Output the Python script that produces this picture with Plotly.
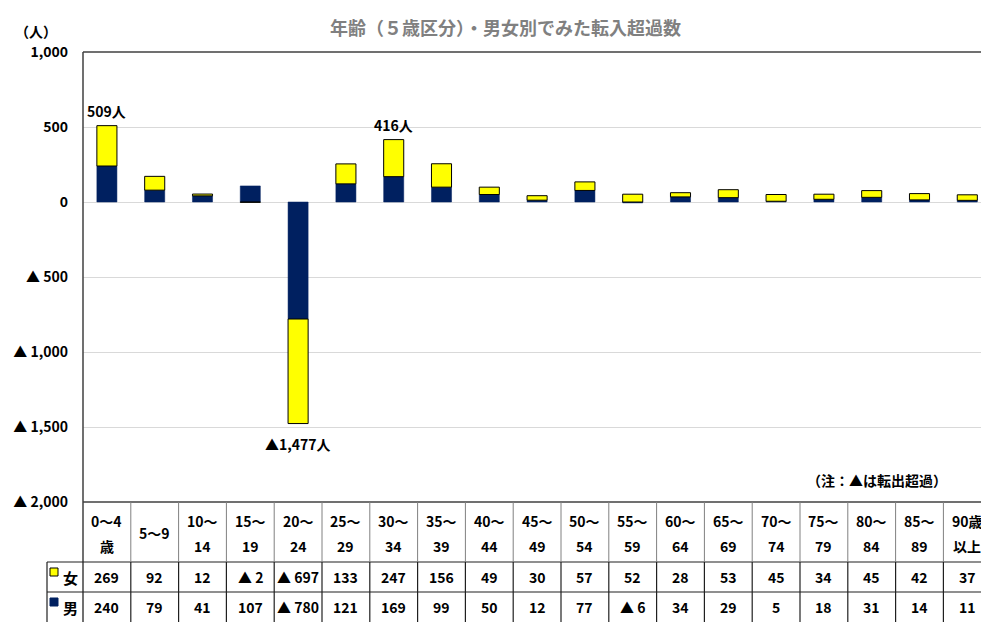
import plotly.graph_objects as go

age_labels = ["0～4\n歳", "5～9", "10～\n14", "15～\n19", "20～\n24", "25～\n29", "30～\n34",
              "35～\n39", "40～\n44", "45～\n49", "50～\n54", "55～\n59", "60～\n64", "65～\n69",
              "70～\n74", "75～\n79", "80～\n84", "85～\n89", "90歳\n以上"]
female = [269, 92, 12, -2, -697, 133, 247, 156, 49, 30, 57, 52, 28, 53, 45, 34, 45, 42, 37]
male = [240, 79, 41, 107, -780, 121, 169, 99, 50, 12, 77, -6, 34, 29, 5, 18, 31, 14, 11]
labeled_idx = [0, 4, 6]
y_ticks = [1000, 500, 0, -500, -1000, -1500, -2000]

FONT = "Noto Sans CJK JP"
NAVY = "#002060"
YELLOW = "#FFFF00"
FS = 14

def fmt(v, space=True):
    s = f"{abs(v):,}"
    if v < 0:
        return ("▲ " if space else "▲") + s
    return s

x = list(range(len(age_labels)))
fig = go.Figure()
fig.add_trace(go.Bar(x=x, y=male, name="男", marker=dict(color=NAVY, line=dict(color=NAVY, width=0.5)),
                     width=0.42))
fig.add_trace(go.Bar(x=x, y=female, name="女", marker=dict(color=YELLOW, line=dict(color="black", width=1)),
                     width=0.42))

W, H = 981, 622
L, T, B = 83, 52, 120
plot_h = H - T - B
plot_w = W - L
cat_px = 47.8
xmax = -0.5 + plot_w / cat_px

def py(pix):
    return (H - B - pix) / plot_h

def px(pix):
    return (pix - L) / plot_w

annotations = []
shapes = []

def ann(xv, yv, text, size=FS, color="black", xref="paper", yref="paper", xanchor="center",
        yanchor="middle", yshift=0):
    annotations.append(dict(x=xv, y=yv, xref=xref, yref=yref, text=text, showarrow=False,
                            xanchor=xanchor, yanchor=yanchor, yshift=yshift,
                            font=dict(size=size, color=color, family=FONT)))

# data labels
for i in labeled_idx:
    tot = female[i] + male[i]
    if tot >= 0:
        ann(i, tot, f"<b>{fmt(tot, False)}人</b>", xref="x", yref="y", yanchor="bottom", yshift=3)
    else:
        ann(i, tot, f"<b>{fmt(tot, False)}人</b>", xref="x", yref="y", yanchor="top", yshift=-8)

# title, unit, note
ann(px(505), py(27), "<b>年齢（５歳区分）・男女別でみた転入超過数</b>", size=18, color="#808080")
ann(px(36), py(31), "<b>（人）</b>", size=14)
ann(px(949), py(480), "<b>（注：▲は転出超過）</b>", xanchor="right")

# table header and rows
for i, lab in enumerate(age_labels):
    parts = lab.split("\n")
    if len(parts) == 2:
        ann(i, py(521), f"<b>{parts[0]}</b>", xref="x")
        ann(i, py(546), f"<b>{parts[1]}</b>", xref="x")
    else:
        ann(i, py(533), f"<b>{parts[0]}</b>", xref="x")
    ann(i, py(577), f"<b>{fmt(female[i])}</b>", xref="x")
    ann(i, py(607), f"<b>{fmt(male[i])}</b>", xref="x")

# legend column
ann(px(70), py(577), "<b>女</b>", size=15)
ann(px(70), py(607), "<b>男</b>", size=15)
shapes.append(dict(type="rect", xref="paper", yref="paper", x0=px(50), x1=px(58), y0=py(568), y1=py(576),
                   fillcolor=YELLOW, line=dict(color="black", width=1)))
shapes.append(dict(type="rect", xref="paper", yref="paper", x0=px(50), x1=px(58), y0=py(598), y1=py(606),
                   fillcolor=NAVY, line=dict(color=NAVY, width=1)))

# borders
shapes.append(dict(type="line", xref="paper", yref="paper", x0=0, x1=1, y0=1, y1=1,
                   line=dict(color="#404040", width=1.5)))
shapes.append(dict(type="line", xref="paper", yref="paper", x0=0, x1=0, y0=1, y1=py(622),
                   line=dict(color="#404040", width=1.5)))
shapes.append(dict(type="line", xref="paper", yref="paper", x0=0, x1=1, y0=0, y1=0,
                   line=dict(color="#404040", width=1.5)))
for yy in (562, 592):
    shapes.append(dict(type="line", xref="paper", yref="paper", x0=px(47), x1=1, y0=py(yy), y1=py(yy),
                       line=dict(color="#202020", width=1.2)))
shapes.append(dict(type="line", xref="paper", yref="paper", x0=px(47), x1=px(47), y0=py(562), y1=py(622),
                   line=dict(color="#202020", width=1.2)))
for i in range(len(age_labels) - 1):
    shapes.append(dict(type="line", xref="x", yref="paper", x0=i + 0.5, x1=i + 0.5, y0=0, y1=py(562),
                       line=dict(color="#808080", width=1)))
    shapes.append(dict(type="line", xref="x", yref="paper", x0=i + 0.5, x1=i + 0.5, y0=py(562), y1=py(622),
                       line=dict(color="#202020", width=1.2)))

fig.update_layout(
    width=W, height=H,
    margin=dict(l=L, r=0, t=T, b=B, autoexpand=False),
    paper_bgcolor="white", plot_bgcolor="white",
    barmode="relative",
    showlegend=False,
    annotations=annotations,
    shapes=shapes,
    font=dict(family=FONT),
)
fig.update_xaxes(range=[-0.5, xmax], showticklabels=False, showgrid=False, zeroline=False, showline=False,
                 automargin=False)
fig.update_yaxes(range=[-2000, 1000], tickvals=y_ticks,
                 ticktext=[f"<b>{fmt(v)}</b>" for v in y_ticks],
                 tickfont=dict(size=FS, color="black", family=FONT),
                 showgrid=True, gridcolor="#D9D9D9", gridwidth=1,
                 zeroline=True, zerolinecolor="#D9D9D9", zerolinewidth=1,
                 showline=False, ticks="", ticklabelstandoff=14, automargin=False)

fig.write_html("out.html", config={"displayModeBar": False},
               post_script="document.body.style.margin='0';document.body.style.overflow='hidden';")
